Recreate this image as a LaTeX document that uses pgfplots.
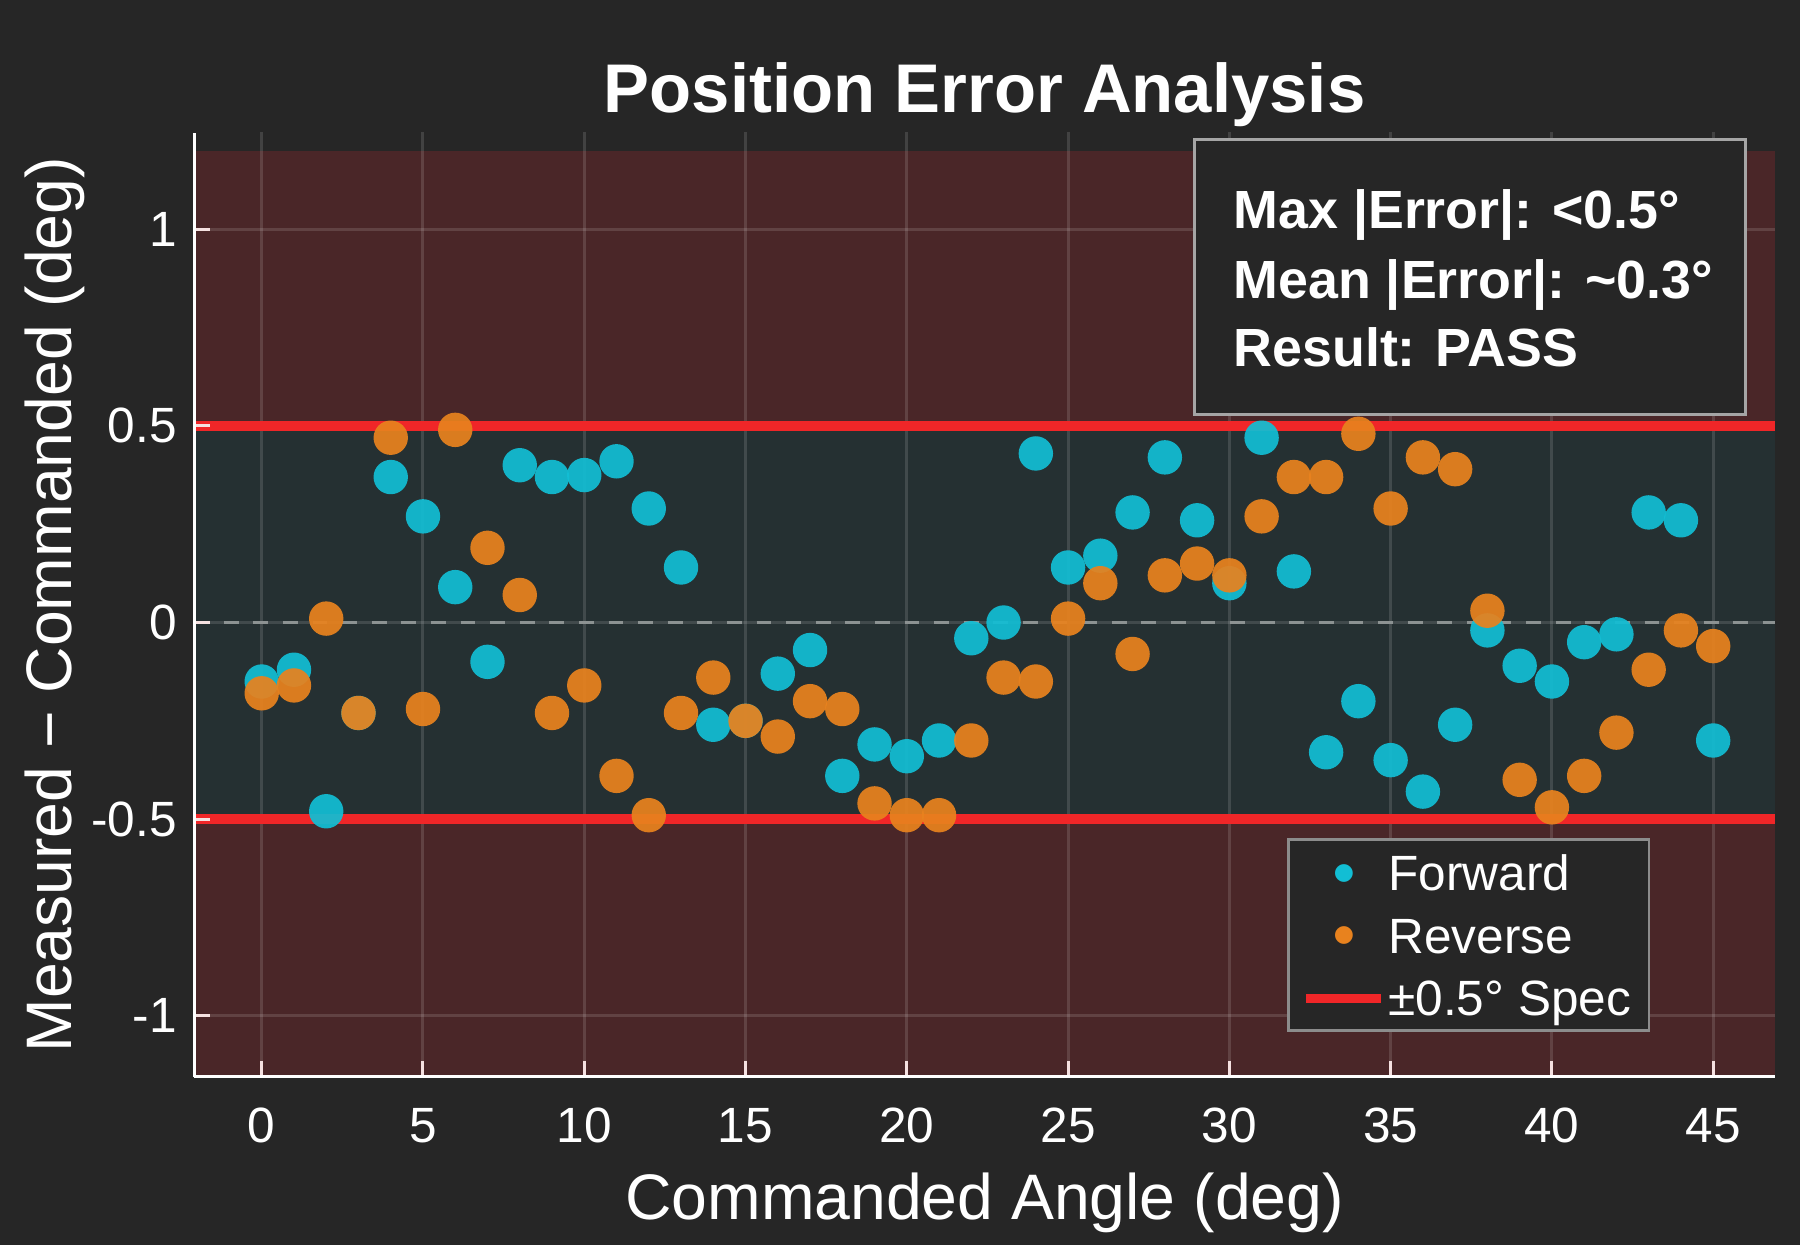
\documentclass[border=0pt]{standalone}
\usepackage{pgfplots}
\usepackage{pgfplotstable}
\pgfplotsset{compat=1.18}
\usepackage{fontspec}
\setmainfont{Liberation Sans}
\newfontfamily\dejavu{DejaVu Sans}

\definecolor{figbg}{RGB}{38,38,38}
\definecolor{bandred}{RGB}{74,38,40}
\definecolor{bandteal}{RGB}{37,48,50}
\definecolor{fwd}{RGB}{18,190,212}
\definecolor{rev}{RGB}{232,130,30}
\definecolor{spec}{RGB}{240,38,40}
\definecolor{zeroline}{RGB}{140,146,146}
\definecolor{legbox}{RGB}{140,140,140}
\definecolor{statbox}{RGB}{165,165,165}
\definecolor{tickc}{RGB}{245,225,225}

\newcommand\legstrut{\rule[-0.93mm]{0pt}{5.59mm}}
\newcommand\legdot[1]{\makebox[8.2mm][l]{\hspace*{3.75mm}\makebox[0pt]{\raisebox{1.73mm}{\raisebox{\dimexpr(\depth-\height)/2\relax}{\dejavu\fontsize{6.6}{6.6}\selectfont\textcolor{#1}{●}}}}}}
\newcommand\legline[1]{\makebox[8.2mm][l]{\textcolor{#1}{\rule[1.245mm]{7.5mm}{0.97mm}}}}

\pgfplotstableread{
x y
0 -0.15
1 -0.12
2 -0.48
3 -0.23
4 0.37
5 0.27
6 0.09
7 -0.10
8 0.40
9 0.37
10 0.375
11 0.41
12 0.29
13 0.14
14 -0.26
15 -0.25
16 -0.13
17 -0.07
18 -0.39
19 -0.31
20 -0.34
21 -0.30
22 -0.04
23 0.00
24 0.43
25 0.14
26 0.17
27 0.28
28 0.42
29 0.26
30 0.10
31 0.47
32 0.13
33 -0.33
34 -0.20
35 -0.35
36 -0.43
37 -0.26
38 -0.02
39 -0.11
40 -0.15
41 -0.05
42 -0.03
43 0.28
44 0.26
45 -0.30
}\fwdtable

\pgfplotstableread{
x y
0 -0.18
1 -0.16
2 0.01
3 -0.23
4 0.47
5 -0.22
6 0.49
7 0.19
8 0.07
9 -0.23
10 -0.16
11 -0.39
12 -0.49
13 -0.23
14 -0.14
15 -0.25
16 -0.29
17 -0.20
18 -0.22
19 -0.46
20 -0.49
21 -0.49
22 -0.30
23 -0.14
24 -0.15
25 0.01
26 0.10
27 -0.08
28 0.12
29 0.15
30 0.12
31 0.27
32 0.37
33 0.37
34 0.48
35 0.29
36 0.42
37 0.39
38 0.03
39 -0.40
40 -0.47
41 -0.39
42 -0.28
43 -0.12
44 -0.02
45 -0.06
}\revtable

\begin{document}
\begin{tikzpicture}
\path[use as bounding box, fill=figbg] (0,0) rectangle (180mm,124.5mm);
\begin{axis}[
  at={(19.43mm,16.83mm)}, anchor=south west,
  scale only axis, width=158.05mm, height=94.37mm,
  xmin=-2.09, xmax=46.91, ymin=-1.155, ymax=1.245,
  axis on top,
  axis lines=left,
  axis line style={-, white, line width=0.33mm},
  tick align=inside,
  major tick length=1.57mm,
  tick style={color=tickc, line width=0.3mm},
  xtick={0,5,10,15,20,25,30,35,40,45},
  xticklabels={0,5,10,15,20,25,30,35,40,45},
  ytick={-1,-0.5,0,0.5,1},
  yticklabels={-1,-0.5,0,0.5,1},
  tick label style={font=\fontsize{14.1}{16}\selectfont, text=white, inner sep=0pt},
  xticklabel style={anchor=base, yshift=-6.59mm},
  yticklabel style={anchor=east, xshift=-1.7mm},
  legend cell align=left,
  legend style={at={(rel axis cs:0.6914,0.2526)}, anchor=north west,
    draw=legbox, line width=0.27mm, fill=figbg, text=white,
    font=\fontsize{14.1}{16}\selectfont,
    inner xsep=1.8mm, inner ysep=0.44mm, row sep=0.67mm,
    nodes={inner xsep=0pt, inner ysep=0pt, text depth=, text height=}},
  gridline/.style={white, opacity=0.13, line width=0.3mm, forget plot},
]
% background bands
\addplot[draw=none, fill=bandred, forget plot] coordinates {(-2.09,-1.2) (46.91,-1.2) (46.91,1.2) (-2.09,1.2)};
\addplot[draw=none, fill=bandteal, forget plot] coordinates {(-2.09,-0.5) (46.91,-0.5) (46.91,0.5) (-2.09,0.5)};
% grid
\addplot[gridline] coordinates {(0,-1.3) (0,1.3)};
\addplot[gridline] coordinates {(5,-1.3) (5,1.3)};
\addplot[gridline] coordinates {(10,-1.3) (10,1.3)};
\addplot[gridline] coordinates {(15,-1.3) (15,1.3)};
\addplot[gridline] coordinates {(20,-1.3) (20,1.3)};
\addplot[gridline] coordinates {(25,-1.3) (25,1.3)};
\addplot[gridline] coordinates {(30,-1.3) (30,1.3)};
\addplot[gridline] coordinates {(35,-1.3) (35,1.3)};
\addplot[gridline] coordinates {(40,-1.3) (40,1.3)};
\addplot[gridline] coordinates {(45,-1.3) (45,1.3)};
\addplot[gridline] coordinates {(-3,-1) (48,-1)};
\addplot[gridline] coordinates {(-3,-0.5) (48,-0.5)};
\addplot[gridline] coordinates {(-3,0) (48,0)};
\addplot[gridline] coordinates {(-3,0.5) (48,0.5)};
\addplot[gridline] coordinates {(-3,1) (48,1)};
% zero line
\addplot[zeroline, line width=0.3mm, dash pattern=on 1.48mm off 1.48mm, forget plot] coordinates {(-2.09,0) (46.91,0)};
% data
\addplot[color=fwd, only marks, mark=*, mark size=1.72mm,
  mark options={fill=fwd, fill opacity=0.93, draw opacity=0},
  legend image code/.code={}]
  table[x=x, y=y] {\fwdtable};
\addlegendentry{\legstrut\legdot{fwd}Forward}
\addplot[color=rev, only marks, mark=*, mark size=1.72mm,
  mark options={fill=rev, fill opacity=0.93, draw opacity=0},
  legend image code/.code={}]
  table[x=x, y=y] {\revtable};
\addlegendentry{\legstrut\legdot{rev}Reverse}
% spec lines
\addplot[spec, line width=0.97mm, legend image code/.code={}]
  coordinates {(-2.09,0.5) (46.91,0.5)};
\addlegendentry{\legstrut\legline{spec}±0.5° Spec}
\addplot[spec, line width=0.97mm, forget plot] coordinates {(-2.09,-0.5) (46.91,-0.5)};
\end{axis}
% stats box
\draw[statbox, line width=0.3mm, fill=figbg] (119.4mm,83.0mm) rectangle (174.53mm,110.5mm);
\begin{scope}[every node/.style={anchor=base west, inner sep=0pt, text=white, font=\bfseries\fontsize{15.3}{18}\selectfont}]
\node at (123.29mm,101.6mm) {Max |Error|: <0.5°};
\node at (123.29mm,94.67mm) {Mean |Error|: \textasciitilde 0.3°};
\node at (123.29mm,87.83mm) {Result: PASS};
\end{scope}
% title and labels
\node[anchor=base, inner sep=0pt, text=white, font=\bfseries\fontsize{19.6}{23}\selectfont] at (98.46mm,113.23mm) {Position Error Analysis};
\node[anchor=base, inner sep=0pt, text=white, font=\fontsize{18.3}{22}\selectfont] at (98.46mm,2.5mm) {Commanded Angle (deg)};
\node[anchor=base, rotate=90, inner sep=0pt, text=white, font=\fontsize{18.3}{22}\selectfont] at (7.17mm,64.02mm) {Measured − Commanded (deg)};
\end{tikzpicture}
\end{document}
